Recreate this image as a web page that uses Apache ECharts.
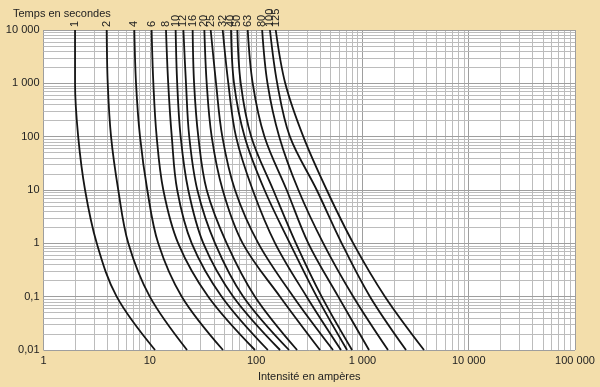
<!DOCTYPE html>
<html><head><meta charset="utf-8">
<script src="https://cdn.jsdelivr.net/npm/echarts@6/dist/echarts.min.js"></script>
<style>html,body{margin:0;padding:0;background:#f3deab;}#c{width:600px;height:387px;}</style>
</head><body><div id="c"></div>
<script>
// Time levels (s) at which currents were read
const times = [10000, 1000, 100, 10, 1, 0.1, 0.01];
// Fuse ratings (labels)
const ratings = ['1','2','4','6','8','10','12','16','20','25','32','40','50','63','80','100','125'];
// Current (A) at each time level, per curve
const c1   = [1.98, 1.98, 2.12, 2.46, 3.17, 4.88, 11.2];
const c2   = [3.93, 4.02, 4.32, 5.05, 6.28, 10.0, 22.4];
const c4   = [7.15, 7.42, 8.09, 9.47, 12.0, 20.0, 48.8];
const c6   = [10.4, 10.8, 11.6, 13.4, 18.5, 35.5, 97.6];
const c8   = [14.2, 14.9, 16.1, 18.1, 24.8, 47.5, 129];
const c10  = [17.5, 18.1, 19.5, 23.0, 31.9, 61.0, 168];
const c12  = [20.7, 21.9, 23.5, 28.0, 41.1, 75.8, 204];
const c16  = [25.3, 26.1, 28.6, 34.3, 52.9, 97.6, 243];
const c20  = [32.6, 34.3, 38.2, 48.5, 74.8, 168, 399];
const c25  = [37.4, 42.0, 48.1, 63.3, 105, 224, 529];
const c32  = [48.5, 54.8, 64.7, 92.9, 151, 299, 629];
const c40  = [58.1, 62.0, 78.0, 120, 208, 372, 717];
const c50  = [66.6, 71.7, 90.0, 145, 237, 414, 799];
const c63  = [83.4, 92.9, 120, 194, 310, 593, 1154];
const c80  = [114, 128, 165, 250, 429, 821, 1741];
const c100 = [135, 158, 208, 372, 639, 1179, 2572];
const c125 = [153, 188, 278, 462, 821, 1632, 3797];
const curves = [c1,c2,c4,c6,c8,c10,c12,c16,c20,c25,c32,c40,c50,c63,c80,c100,c125];
// Tick labels
const xTickLabels = ['1','10','100','1 000','10 000','100 000'];
const yTickLabels = ['0,01','0,1','1','10','100','1 000','10 000'];

const gridMinor = '#bcbcbc', gridMajor = '#9e9e9e';
function gridMarks(axisKey, lo, hi) {
  const d = [];
  for (let e = lo; e < hi; e++) {
    for (let m = 1; m <= 9; m++) {
      const v = m * Math.pow(10, e);
      d.push({[axisKey]: v, lineStyle: {color: m === 1 ? gridMajor : gridMinor}});
    }
  }
  d.push({[axisKey]: Math.pow(10, hi), lineStyle: {color: gridMajor}});
  return d;
}

const series = curves.map((c, i) => ({
  type: 'line',
  name: ratings[i],
  smooth: 0.35,
  showSymbol: true,
  symbolSize: 0,
  symbol: 'circle',
  z: 5,
  lineStyle: {color: '#151515', width: 1.8},
  itemStyle: {color: '#151515'},
  emphasis: {disabled: true},
  data: c.map((a, j) => j === 0 ? {
    value: [a, times[j]],
    label: {show: true, position: 'top', distance: 3, rotate: 90, align: 'left', verticalAlign: 'middle',
      formatter: ratings[i], fontFamily: 'Liberation Sans', fontSize: 11, color: '#222'}
  } : [a, times[j]])
}));
series.push({
  type: 'line', data: [], silent: true, z: 1,
  markLine: {silent: true, symbol: 'none', label: {show: false}, animation: false,
    lineStyle: {type: 'solid', width: 1, color: gridMinor},
    data: gridMarks('xAxis', 0, 5).concat(gridMarks('yAxis', -2, 4))}
});

const chart = echarts.init(document.getElementById('c'), null, {renderer: 'canvas'});
chart.setOption({
  animation: false,
  backgroundColor: '#f3deab',
  title: {text: 'Temps en secondes', left: 8, top: 3,
    textStyle: {fontFamily: 'Liberation Sans', fontSize: 11, fontWeight: 'normal', color: '#222'}},
  grid: {left: 43.5, right: 25, top: 30, bottom: 34, show: true, backgroundColor: '#fff', borderWidth: 0},
  xAxis: {type: 'log', logBase: 10, min: 1, max: 100000,
    name: 'Intensité en ampères', nameLocation: 'middle', nameGap: 21,
    nameTextStyle: {fontFamily: 'Liberation Sans', fontSize: 11, color: '#222'},
    axisLine: {show: false}, axisTick: {show: false}, splitLine: {show: false},
    axisLabel: {fontFamily: 'Liberation Sans', fontSize: 11, color: '#222', margin: 5,
      formatter: v => xTickLabels[Math.round(Math.log10(v))]}},
  yAxis: {type: 'log', logBase: 10, min: 0.01, max: 10000,
    axisLine: {show: false}, axisTick: {show: false}, splitLine: {show: false},
    axisLabel: {fontFamily: 'Liberation Sans', fontSize: 11, color: '#222', margin: 4,
      formatter: v => yTickLabels[Math.round(Math.log10(v)) + 2]}},
  series: series
});
</script></body></html>
